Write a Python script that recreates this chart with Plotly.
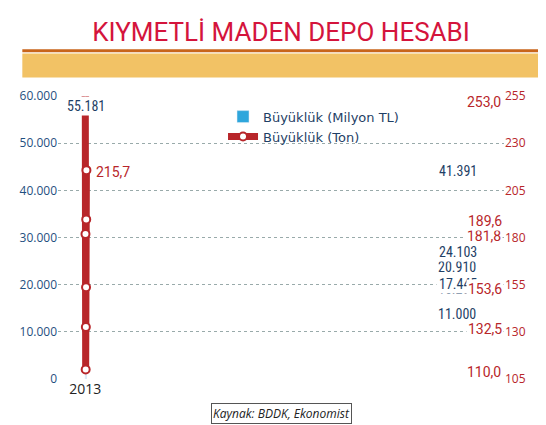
import plotly.graph_objects as go

years = ["2013", "2014", "2015", "2016", "2017", "2018", "2019/7ay"]
milyon_tl = [20910, 16250, 11000, 17445, 24103, 41391, 55181]
milyon_tl_text = ["20.910", "16.250", "11.000", "17.445", "24.103", "41.391", "55.181"]
ton = [253.0, 181.8, 110.0, 132.5, 153.6, 189.6, 215.7]
ton_text = ["253,0", "181,8", "110,0", "132,5", "153,6", "189,6", "215,7"]
left_ticks = [0, 10000, 20000, 30000, 40000, 50000, 60000]
left_labels = ["0", "10.000", "20.000", "30.000", "40.000", "50.000", "60.000"]
right_ticks = [105, 130, 155, 180, 205, 230, 255]

BLUE = "#2ea6dc"
RED = "#b8262a"

fig = go.Figure()
fig.add_trace(go.Bar(
    x=years, y=milyon_tl, name="Büyüklük (Milyon TL)",
    marker=dict(color=BLUE), width=0.62,
))
fig.add_trace(go.Scatter(
    x=years, y=ton, name="Büyüklük (Ton)", yaxis="y2",
    mode="lines+markers",
    line=dict(color=RED, width=7),
    marker=dict(color="white", size=8, line=dict(color=RED, width=2)),
))

for x, v, t in zip(years, milyon_tl, milyon_tl_text):
    fig.add_annotation(x=x, y=v, text=t, showarrow=False, yshift=13,
                       font=dict(size=14, color="#1f3f66", family="Roboto Condensed, Roboto"),
                       bgcolor="white")
for x, v, t in zip(years, ton, ton_text):
    fig.add_annotation(x=x, y=v, yref="y2", text=t, showarrow=False,
                       xanchor="left", xshift=8, yshift=-2,
                       font=dict(size=14, color=RED, family="Roboto"),
                       bgcolor="white")

# source box at bottom
fig.add_annotation(x=0.5, y=-0.085, xref="paper", yref="paper", yanchor="top",
                   xanchor="center", showarrow=False,
                   text="<i>Kaynak: BDDK, Ekonomist</i>",
                   font=dict(size=12, color="#222"), bordercolor="#555", borderwidth=1,
                   bgcolor="white", borderpad=1)

fig.update_layout(
    width=546, height=425,
    margin=dict(l=45, r=50, t=88, b=54),
    paper_bgcolor="white", plot_bgcolor="white",
    title=dict(text="KIYMETLİ MADEN DEPO HESABI", x=0.5, y=0.965, xanchor="center",
               font=dict(size=26, color="#d4143c", family="Liberation Sans Narrow, Roboto")),
    showlegend=True,
    legend=dict(x=0.37, y=0.98, xanchor="left", yanchor="top",
                bgcolor="rgba(0,0,0,0)",
                font=dict(size=13, color="#1f3f66", family="DejaVu Sans"),
                tracegroupgap=0),
    bargap=0.3,
    xaxis=dict(type="category", showgrid=False, tickfont=dict(size=14, color="#222"),
               showline=False, ticks=""),
    yaxis=dict(range=[0, 60000], tickvals=left_ticks, ticktext=left_labels,
               gridcolor="#9aa", griddash="dot", gridwidth=1,
               tickfont=dict(size=12, color="#1f4f80"), zeroline=False),
    yaxis2=dict(range=[105, 255], tickvals=right_ticks, overlaying="y", side="right",
                showgrid=False, tickfont=dict(size=12, color=RED), zeroline=False),
    shapes=[
        dict(type="rect", xref="paper", yref="paper", x0=-0.08, x1=1.1, y0=1.155, y1=1.165,
             fillcolor="#c8651b", line=dict(width=0)),
        dict(type="rect", xref="paper", yref="paper", x0=-0.08, x1=1.1, y0=1.065, y1=1.15,
             fillcolor="#f2c265", line=dict(width=0)),
    ],
)

fig.write_html("out.html")
